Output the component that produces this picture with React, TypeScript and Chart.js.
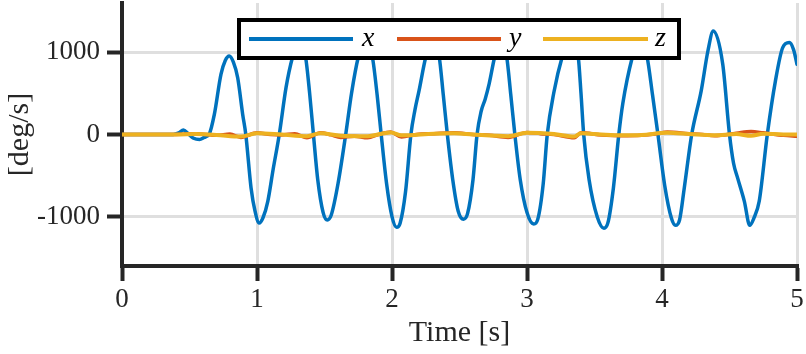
import React, { useEffect, useRef } from "react";
import { Chart, registerables } from "chart.js";

Chart.register(...registerables);

// ---------- data ----------
const xTicks = [0, 1, 2, 3, 4, 5];
const yTicks = [-1000, 0, 1000];
const xRange = [0, 5];
const yRange = [-1600, 1600];
const seriesLabels = ["x", "y", "z"];
const seriesColors = ["#0072BD", "#D95319", "#EDB120"];
const xTitle = "Time [s]";
const yTitle = "[deg/s]";

// x (blue) angular rate
const tX = [
  0, 0.38, 0.42, 0.455, 0.49, 0.53, 0.575, 0.61, 0.645, 0.684, 0.733, 0.765, 0.794, 0.825, 0.857, 0.894, 0.917,
  0.956, 0.985, 1.016, 1.045, 1.08, 1.12, 1.165, 1.215, 1.263, 1.31, 1.36, 1.39, 1.418, 1.45, 1.49, 1.521,
  1.55, 1.6, 1.657, 1.7, 1.75, 1.8, 1.855, 1.89, 1.92, 1.96, 2.0, 2.034, 2.06, 2.1, 2.14, 2.17, 2.2, 2.25,
  2.3, 2.35, 2.38, 2.41, 2.45, 2.49, 2.53, 2.56, 2.6, 2.63, 2.66, 2.69, 2.72, 2.76, 2.805, 2.85, 2.88, 2.91,
  2.95, 3.0, 3.05, 3.08, 3.12, 3.15, 3.2, 3.26, 3.32, 3.38, 3.4, 3.42, 3.46, 3.52, 3.57, 3.6, 3.64, 3.68,
  3.71, 3.78, 3.835, 3.89, 3.93, 3.97, 4.02, 4.07, 4.1, 4.13, 4.165, 4.22, 4.29, 4.34, 4.38, 4.45, 4.5,
  4.53, 4.56, 4.61, 4.65, 4.68, 4.72, 4.78, 4.84, 4.894, 4.943, 4.975, 5.0,
];
const gyroX = [
  0, 0, 20, 55, 10, -45, -60, -35, 0, 244, 732, 900, 955, 880, 690, 244, 0,
  -650, -930, -1077, -1010, -813, -420, 0, 570, 940, 1150, 940, 500, 0, -550, -950, -1040,
  -980, -600, 0, 500, 940, 1160, 940, 480, 0, -600, -1000, -1130, -1080, -700, 0, 300, 530, 940,
  1150, 940, 480, 0, -550, -930, -1030, -960, -550, 0, 280, 430, 620, 940, 1170, 940, 480, 0,
  -550, -950, -1090, -1030, -600, 0, 520, 940, 1200, 940, 500, 0, -550, -1000, -1140, -1070, -650, 0,
  380, 940, 1200, 940, 480, 0, -620, -1020, -1105, -1040, -650, 0, 528, 1016, 1260, 854, 0,
  -350, -528, -813, -1105, -1020, -813, 0, 650, 1057, 1118, 1030, 854,
];

// y (orange) angular rate
const tY = [
  0, 0.4, 0.55, 0.7, 0.8, 0.88, 1.0, 1.1, 1.18, 1.28, 1.37, 1.47, 1.55, 1.62, 1.72, 1.82, 1.9, 1.99, 2.07,
  2.18, 2.31, 2.46, 2.6, 2.72, 2.86, 3.0, 3.1, 3.2, 3.35, 3.4, 3.55, 3.7, 3.85, 3.95, 4.04, 4.2, 4.3, 4.39,
  4.55, 4.66, 4.75, 4.9, 5.0,
];
const gyroY = [
  0, 0, 10, -10, 5, -35, 20, 0, -5, 10, -40, 20, -5, -35, -20, -40, 0, 30, -30,
  0, 10, 20, 0, -10, -35, 25, 10, 0, -40, 20, -5, -15, -10, 5, 30, 10, 0, -15,
  15, 35, 20, -10, -20,
];

// z (yellow) angular rate
const tZ = [
  0, 0.4, 0.55, 0.7, 0.88, 1.0, 1.18, 1.37, 1.47, 1.62, 1.82, 1.99, 2.07, 2.31, 2.46, 2.6, 2.86, 3.0,
  3.2, 3.35, 3.4, 3.55, 3.7, 3.85, 4.04, 4.2, 4.39, 4.55, 4.66, 4.75, 4.9, 5.0,
];
const gyroZ = [
  0, 0, 5, -5, -25, 15, 0, -20, 15, -15, -20, 25, -10, 10, 15, 0, -20, 20,
  5, -25, 15, 0, -10, -5, 20, 5, -10, 5, -15, 10, 0, 0,
];

// ---------- styling ----------
const SERIF = "'Liberation Serif', 'DejaVu Serif', serif";
const INK = "#262626";
const GRID = "#dfdfdf";

const boxLegend = {
  id: "boxLegend",
  afterDatasetsDraw(chart: any) {
    const ctx = chart.ctx as CanvasRenderingContext2D;
    ctx.save();
    const bx = 239, by = 20, bw = 440, bh = 38;
    ctx.fillStyle = "#ffffff";
    ctx.fillRect(bx, by, bw, bh);
    ctx.lineWidth = 4;
    ctx.strokeStyle = "#000000";
    ctx.strokeRect(bx, by, bw, bh);
    const slots = [
      { x0: 249, x1: 353, tx: 362 },
      { x0: 397, x1: 501, tx: 509 },
      { x0: 543, x1: 648, tx: 655 },
    ];
    const lineY = 39;
    chart.data.datasets.forEach((ds: any, i: number) => {
      const s = slots[i];
      ctx.beginPath();
      ctx.moveTo(s.x0, lineY);
      ctx.lineTo(s.x1, lineY);
      ctx.lineWidth = 4;
      ctx.strokeStyle = ds.borderColor;
      ctx.lineCap = "butt";
      ctx.stroke();
      ctx.fillStyle = "#000000";
      ctx.font = `italic 28px ${SERIF}`;
      ctx.textBaseline = "alphabetic";
      ctx.textAlign = "left";
      ctx.fillText(ds.label, s.tx, 46);
    });
    ctx.restore();
  },
};

export default function App() {
  const canvasRef = useRef<HTMLCanvasElement | null>(null);

  useEffect(() => {
    if (!canvasRef.current) return;
    const mk = (ts: number[], vs: number[]) => ts.map((t, i) => ({ x: t, y: vs[i] }));
    const chart = new Chart(canvasRef.current, {
      type: "line",
      data: {
        datasets: [
          { label: seriesLabels[0], data: mk(tX, gyroX), borderColor: seriesColors[0], borderWidth: 3.5, order: 3 },
          { label: seriesLabels[1], data: mk(tY, gyroY), borderColor: seriesColors[1], borderWidth: 3.5, order: 2 },
          { label: seriesLabels[2], data: mk(tZ, gyroZ), borderColor: seriesColors[2], borderWidth: 4, order: 1 },
        ].map((d) => ({
          ...d,
          pointRadius: 0,
          fill: false,
          cubicInterpolationMode: "monotone" as const,
          borderJoinStyle: "round" as const,
          borderCapStyle: "round" as const,
        })),
      },
      options: {
        animation: false,
        responsive: false,
        maintainAspectRatio: false,
        layout: { padding: { top: 3, right: 9, left: 0, bottom: 0 } },
        plugins: { legend: { display: false }, tooltip: { enabled: false } },
        scales: {
          x: {
            type: "linear",
            min: xRange[0],
            max: xRange[1],
            afterBuildTicks: (s: any) => {
              s.ticks = xTicks.map((v) => ({ value: v }));
            },
            afterFit: (s: any) => {
              s.height = 88;
              s.paddingLeft = 0;
              s.paddingRight = 0;
            },
            grid: { color: GRID, lineWidth: 3, drawTicks: true, tickLength: 15, tickColor: INK, tickWidth: 4 },
            border: { color: INK, width: 4 },
            ticks: {
              color: INK,
              font: { family: SERIF, size: 27 },
              padding: 3,
              maxRotation: 0,
              autoSkip: false,
              callback: (v: any) => String(v),
            },
            title: {
              display: true,
              text: xTitle,
              color: INK,
              font: { family: SERIF, size: 30 },
              padding: { top: 0, bottom: 3 },
            },
          },
          y: {
            type: "linear",
            min: yRange[0],
            max: yRange[1],
            afterBuildTicks: (s: any) => {
              s.ticks = yTicks.map((v) => ({ value: v }));
            },
            afterFit: (s: any) => {
              s.width = 122;
              s.paddingTop = 0;
              s.paddingBottom = 0;
            },
            grid: { color: GRID, lineWidth: 3, drawTicks: true, tickLength: 15, tickColor: INK, tickWidth: 4 },
            border: { color: INK, width: 4 },
            ticks: {
              color: INK,
              font: { family: SERIF, size: 27 },
              padding: 7,
              autoSkip: false,
              callback: (v: any) => String(v),
            },
            title: {
              display: true,
              text: yTitle,
              color: INK,
              font: { family: SERIF, size: 30 },
              padding: { top: 2, bottom: 0 },
            },
          },
        },
      },
      plugins: [boxLegend],
    } as any);
    return () => chart.destroy();
  }, []);

  return (
    <div style={{ position: "fixed", left: 0, top: 0, width: 806, height: 354, background: "#ffffff" }}>
      <canvas ref={canvasRef} width={806} height={354} style={{ display: "block" }} />
    </div>
  );
}
